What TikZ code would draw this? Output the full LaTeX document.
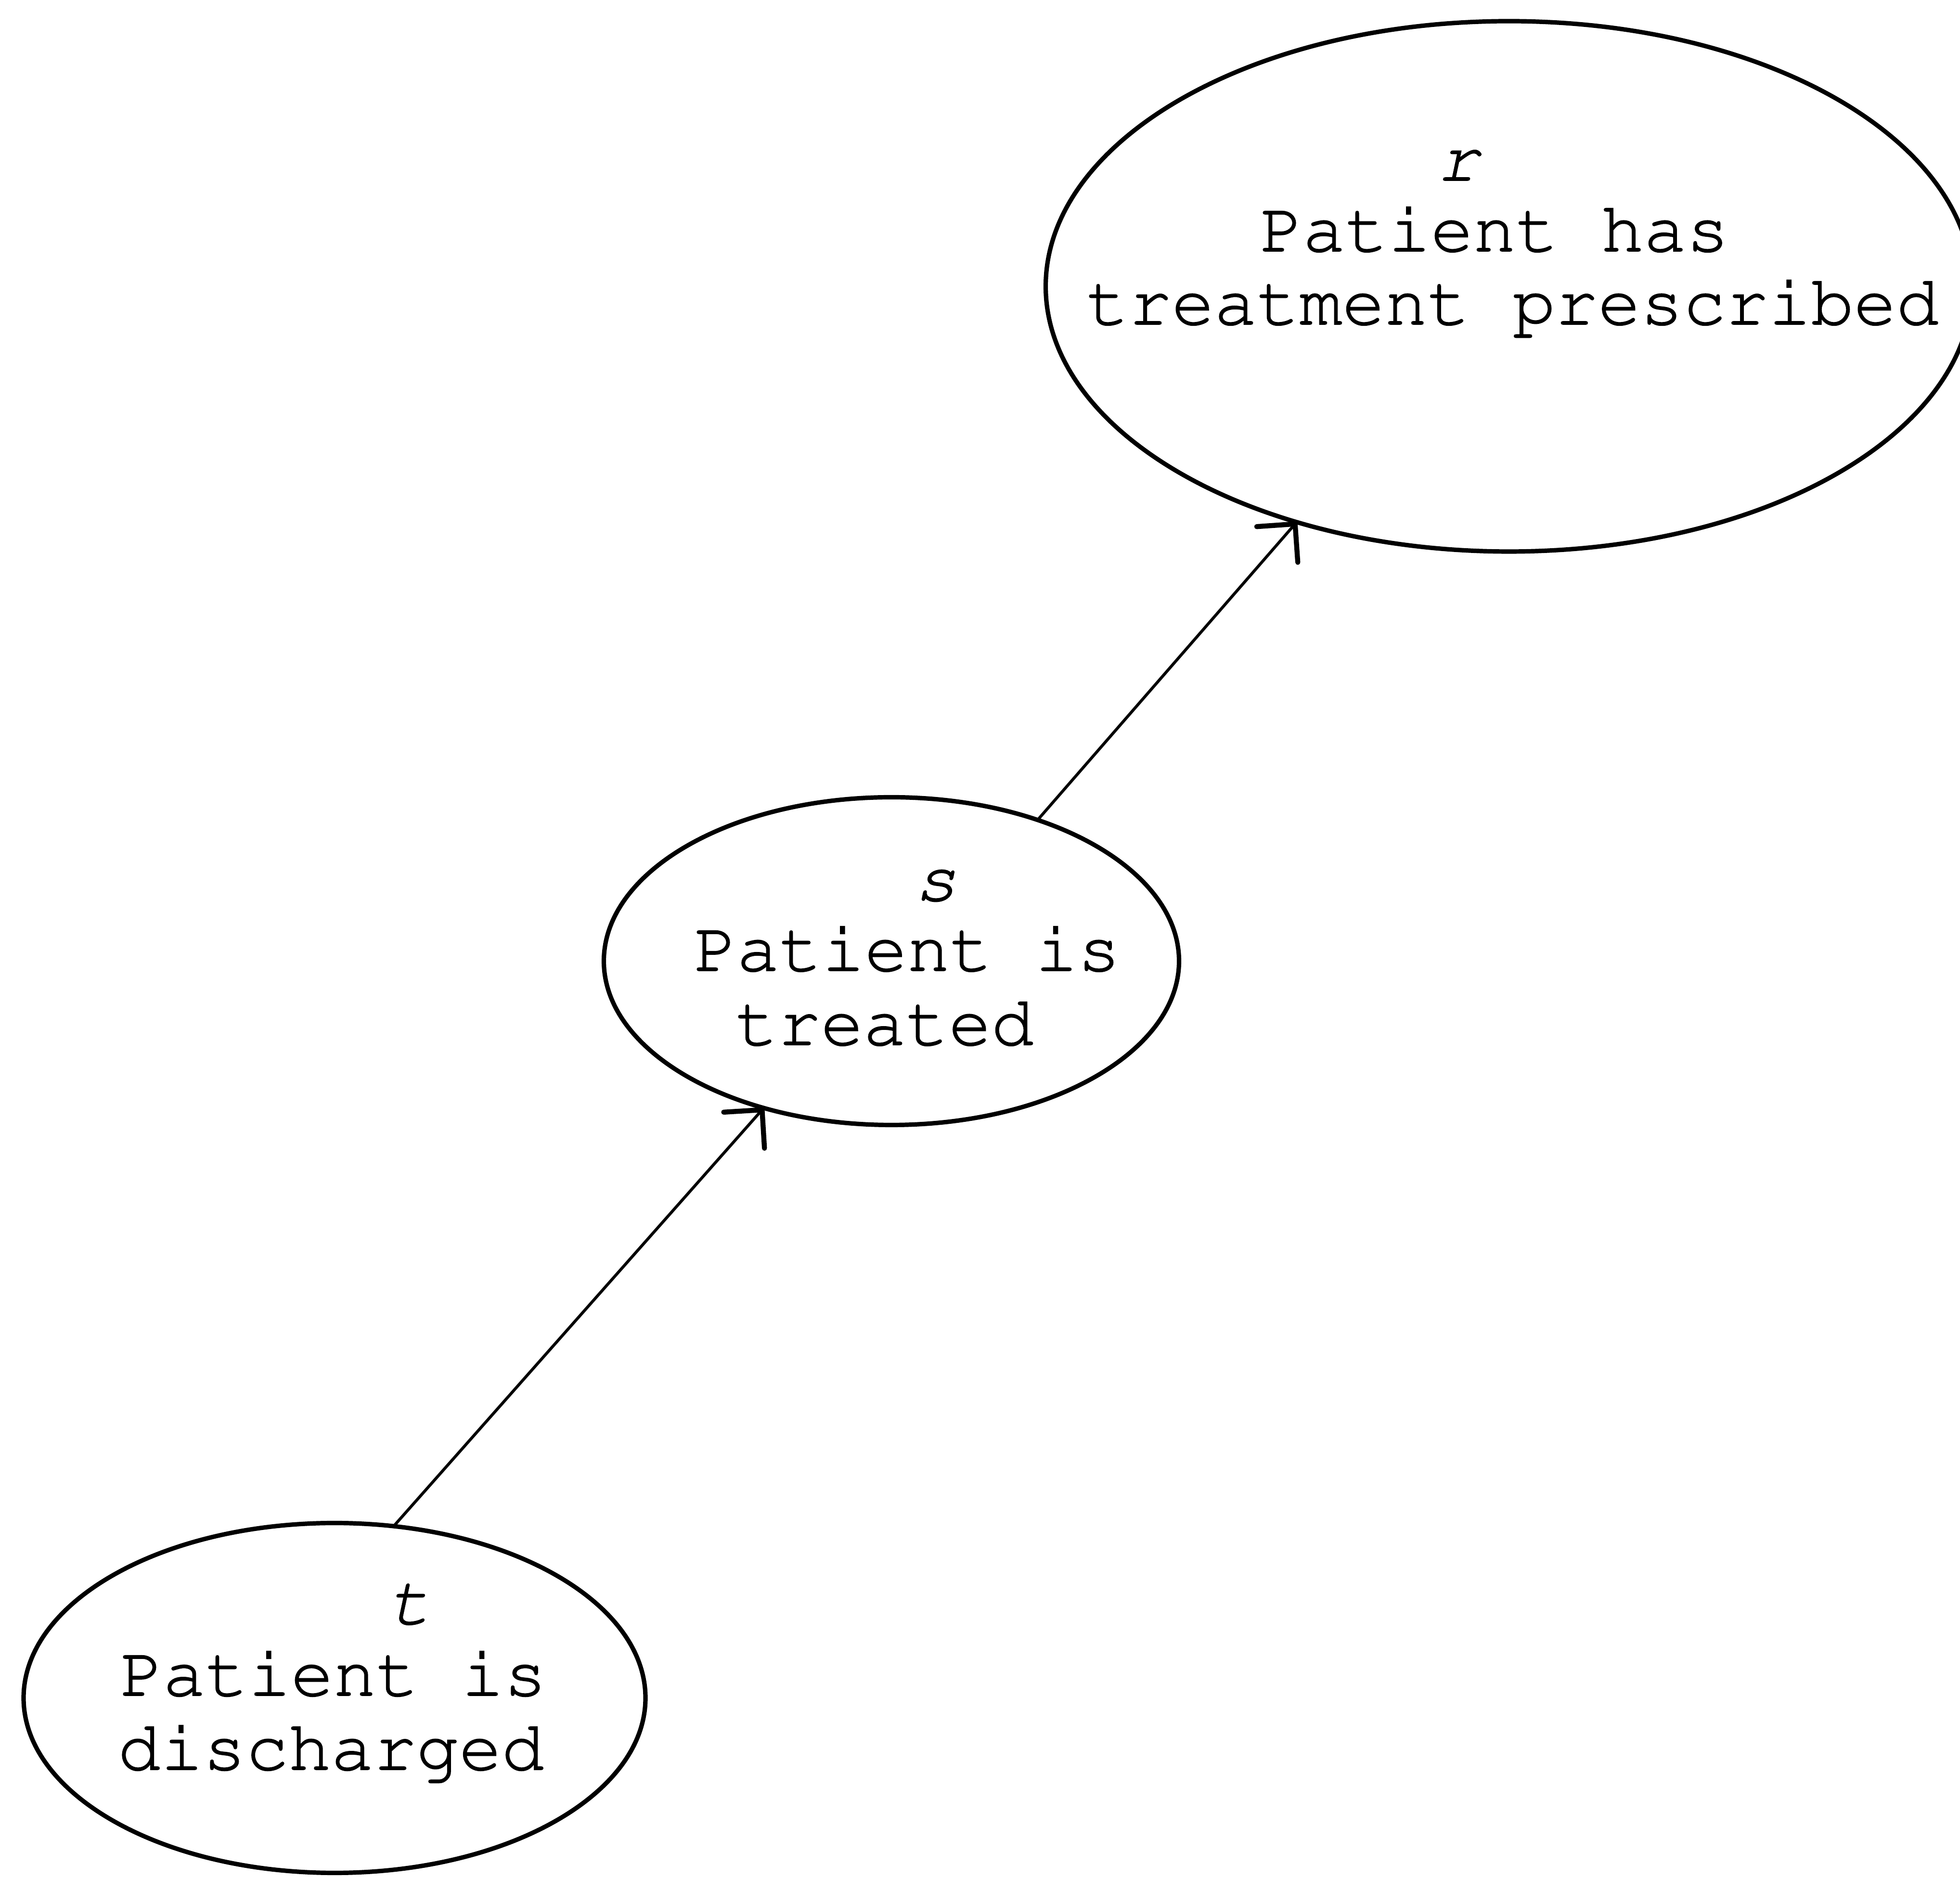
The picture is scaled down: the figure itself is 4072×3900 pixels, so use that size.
\documentclass[tikz,border=0pt]{standalone}
\usepackage[T1]{fontenc}
\usepackage{courier}
\usetikzlibrary{arrows.meta,shapes.geometric}

% typewriter text, filled and lightly stroked for a heavier impression
\newcommand{\inkedtext}{\special{pdf:literal 2 Tr 0.45 w}}

\tikzset{
  state/.style={draw, ellipse, line width=2.3pt, inner sep=0pt, outer sep=0pt},
  words/.style={anchor=base west, inner sep=0pt, outer sep=0pt,
    font=\ttfamily\fontsize{36.9pt}{37pt}\selectfont\inkedtext},
  symbol/.style={anchor=base, inner sep=0pt, outer sep=0pt,
    font=\ttfamily\itshape\fontsize{36.9pt}{37pt}\selectfont\inkedtext},
  conn/.style={line width=1.5pt,
    -{Straight Barb[angle=90:20pt, line width=2.6pt, round]}},
}

\begin{document}
\begin{tikzpicture}[x=0.25pt, y=0.25pt]
  \useasboundingbox (0,0) rectangle (4072,3900);

  % states
  \node[state, minimum width=481.25pt, minimum height=275.5pt] (r) at (3135,3305) {};
  \node[state, minimum width=298.75pt, minimum height=170.25pt] (s) at (1852,1903) {};
  \node[state, minimum width=323pt, minimum height=181.75pt] (t) at (695,372) {};

  % labels of r
  \node[symbol] (rsym) at (3030,3525) {r};
  \node[words] (rline1) at (2618,3378) {Patient has};
  \node[words] (rline2) at (2257,3226) {treatment prescribed};

  % labels of s
  \node[symbol] (ssym) at (1944,2029) {s};
  \node[words] (sline1) at (1442,1883) {Patient is};
  \node[words] (sline2) at (1528,1729) {treated};

  % labels of t
  \node[symbol] (tsym) at (850,526) {t};
  \node[words] (tline1) at (250,377) {Patient is};
  \node[words] (tline2) at (245,223) {discharged};

  % transitions
  \draw[conn] (t.71) -- (s.229);
  \draw[conn] (s.44) -- (r.228);
\end{tikzpicture}
\end{document}
